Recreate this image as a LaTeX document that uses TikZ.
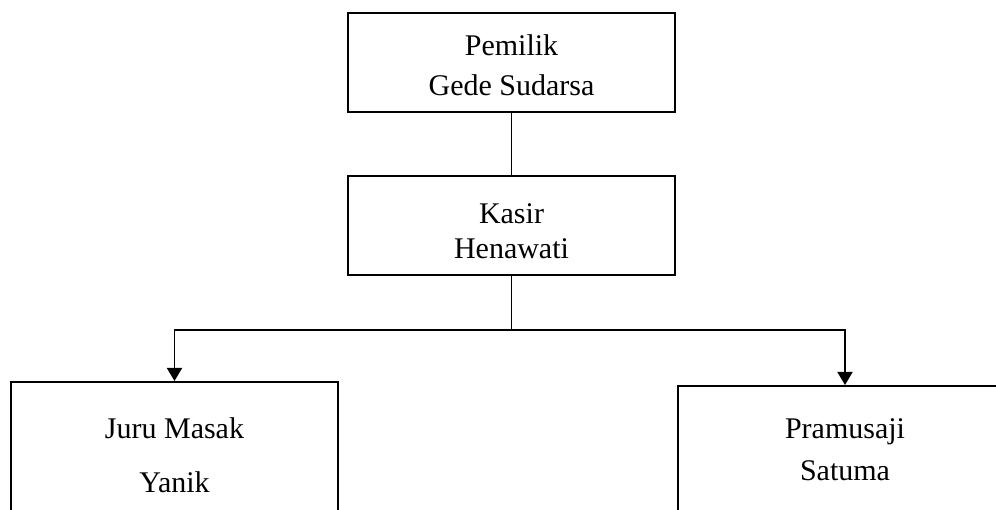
\documentclass[tikz,border=0pt]{standalone}
\usepackage{fontspec}
\setmainfont{Liberation Serif}
\usetikzlibrary{arrows.meta}

% two-line box text: last-line depth, first-line height, upper line, lower line
\newcommand{\orgtext}[4]{\rule{0pt}{#2}#3\\#4\rule[-#1]{0pt}{#1}}

\begin{document}
\begin{tikzpicture}[x=1pt,y=-1pt,
  orgbox/.style={draw, line width=1.6pt, rectangle, inner sep=0pt, align=center, anchor=north,
    font=\fontsize{30}{#1}\selectfont},
  link/.style={line width=1.6pt},
  arrowlink/.style={line width=1.6pt, -{Triangle[length=13pt,width=15pt]}}]
  \useasboundingbox (0,0) rectangle (996,510);
  \clip (0,0) rectangle (996,510);

  \node[orgbox=40pt, minimum width=327pt] (owner) at (511.5,12)
    {\orgtext{16pt}{43pt}{Pemilik}{Gede Sudarsa}};
  \node[orgbox=35pt, minimum width=327pt] (cashier) at (511.5,175)
    {\orgtext{16pt}{48pt}{Kasir}{Henawati}};
  \node[orgbox=54pt, minimum width=327pt] (cook) at (174.5,381)
    {\orgtext{40pt}{57pt}{Juru Masak}{Yanik}};
  \node[orgbox=42pt, minimum width=334pt] (waiter) at (845,385)
    {\orgtext{40pt}{53pt}{Pramusaji}{Satuma}};

  \coordinate (bus) at (511.5,330);

  \draw[link] (owner.south) -- (cashier.north);
  \draw[link] (cashier.south) -- (bus);
  \draw[arrowlink] (bus) -| (cook.north);
  \draw[arrowlink] (bus) -| (waiter.north);
\end{tikzpicture}
\end{document}
